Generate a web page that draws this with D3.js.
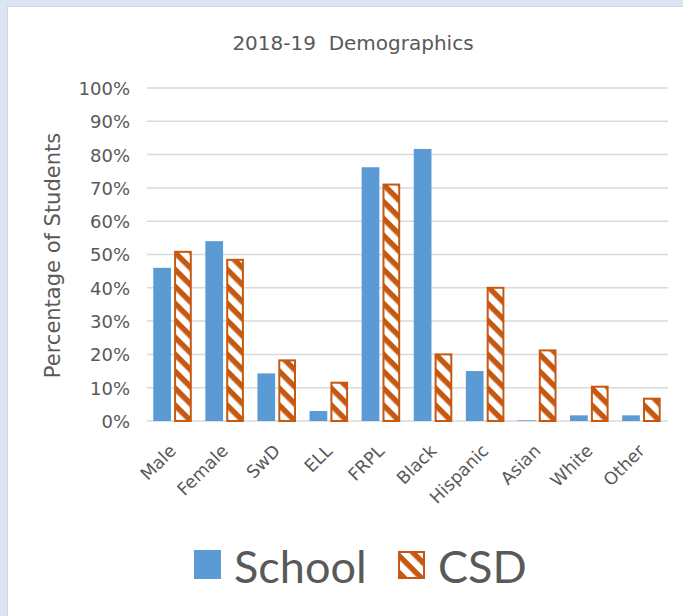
<!DOCTYPE html>
<html>
<head>
<meta charset="utf-8">
<script src="https://cdn.jsdelivr.net/npm/d3@7"></script>
<style>
  html, body { margin: 0; padding: 0; background: #dce6f2; }
  svg { display: block; }
  text { font-family: "DejaVu Sans", sans-serif; fill: #595959; }
</style>
</head>
<body>
<svg id="chart" width="683" height="616"></svg>
<script>
// Demographic groups and the share of students in each, school vs. district
const categories = ["Male", "Female", "SwD", "ELL", "FRPL", "Black", "Hispanic", "Asian", "White", "Other"];
const seriesNames = ["School", "CSD"];
const schoolValues = [0.46, 0.54, 0.143, 0.03, 0.762, 0.817, 0.15, 0.002, 0.017, 0.017];
const csdValues = [0.511, 0.487, 0.185, 0.118, 0.713, 0.203, 0.403, 0.215, 0.106, 0.07];
const yTicks = [0, 0.1, 0.2, 0.3, 0.4, 0.5, 0.6, 0.7, 0.8, 0.9, 1.0];

const blue = "#5b9bd5";
const orange = "#c65911";
const textFont = "'DejaVu Sans', sans-serif";

const svg = d3.select("#chart");
const W = 683, H = 616;

// page frame
svg.append("rect").attr("x", 0).attr("y", 0).attr("width", W).attr("height", H).attr("fill", "#dce6f2");
svg.append("rect").attr("x", 7.5).attr("y", 6.5).attr("width", W).attr("height", H)
  .attr("fill", "#ffffff").attr("stroke", "#cfd6de").attr("stroke-width", 1);

// diagonal stripe pattern for district bars
const defs = svg.append("defs");
const pat = defs.append("pattern")
  .attr("id", "stripes")
  .attr("patternUnits", "userSpaceOnUse")
  .attr("width", 12).attr("height", 12)
  .attr("patternTransform", "rotate(45)");
pat.append("rect").attr("width", 12).attr("height", 12).attr("fill", "#ffffff");
pat.append("rect").attr("x", 0).attr("y", 0).attr("width", 12).attr("height", 5.5).attr("fill", orange);

const plot = { left: 147, right: 668, top: 88, bottom: 421 };

const x0 = d3.scaleBand().domain(categories).range([plot.left, plot.right]).padding(0);
const bw = x0.bandwidth();
const x1 = d3.scaleBand().domain(seriesNames).range([bw * 0.12, bw * 0.86]).paddingInner(0.15);
const y = d3.scaleLinear().domain([0, 1]).range([plot.bottom, plot.top]);

// title
svg.append("text")
  .attr("x", 353).attr("y", 50)
  .attr("text-anchor", "middle")
  .attr("font-size", 20)
  .style("white-space", "pre")
  .text("2018-19  Demographics");

// gridlines
const grid = svg.append("g");
grid.selectAll("line").data(yTicks).join("line")
  .attr("x1", plot.left).attr("x2", plot.right)
  .attr("y1", d => y(d)).attr("y2", d => y(d))
  .attr("stroke", "#d9d9d9").attr("stroke-width", 1.5);

// y axis labels
const yAxis = d3.axisLeft(y).tickValues(yTicks).tickFormat(d3.format(".0%")).tickSize(0).tickPadding(17);
const ya = svg.append("g").attr("transform", `translate(${plot.left},0)`).call(yAxis);
ya.select(".domain").remove();
ya.selectAll("text").attr("font-size", 18).attr("fill", "#595959")
  .style("font-family", textFont).attr("dy", "0.36em");

// y axis title
svg.append("text")
  .attr("transform", `translate(60,${(plot.top + plot.bottom) / 2 + 1}) rotate(-90)`)
  .attr("text-anchor", "middle")
  .attr("font-size", 21)
  .text("Percentage of Students");

// bars
const groups = svg.append("g").selectAll("g").data(categories).join("g")
  .attr("transform", d => `translate(${x0(d)},0)`);

groups.append("rect")
  .attr("x", x1("School"))
  .attr("width", x1.bandwidth())
  .attr("y", (d, i) => y(schoolValues[i]))
  .attr("height", (d, i) => y(0) - y(schoolValues[i]))
  .attr("fill", blue);

groups.append("rect")
  .attr("x", x1("CSD") + 1)
  .attr("width", x1.bandwidth() - 2)
  .attr("y", (d, i) => y(csdValues[i]) + 1)
  .attr("height", (d, i) => Math.max(0, y(0) - y(csdValues[i]) - 1))
  .attr("fill", "url(#stripes)")
  .attr("stroke", orange).attr("stroke-width", 2);

// category labels
const xa = svg.append("g").attr("transform", `translate(0,${plot.bottom})`)
  .call(d3.axisBottom(x0).tickSize(0).tickPadding(0));
xa.select(".domain").remove();
xa.selectAll("text")
  .attr("font-size", 17.5).attr("fill", "#595959")
  .style("font-family", textFont)
  .attr("text-anchor", "end")
  .attr("dy", 0).attr("y", 0)
  .attr("transform", "translate(4,31) rotate(-45)");

// legend
const legend = svg.append("g");
legend.append("rect").attr("x", 194).attr("y", 550).attr("width", 27).attr("height", 29).attr("fill", blue);
legend.append("text").attr("x", 234).attr("y", 583).attr("font-size", 45)
  .style("font-family", "Lato, sans-serif").text("School");
legend.append("rect").attr("x", 399).attr("y", 552).attr("width", 25).attr("height", 26)
  .attr("fill", "url(#stripes)").attr("stroke", orange).attr("stroke-width", 2);
legend.append("text").attr("x", 438).attr("y", 583).attr("font-size", 45)
  .style("font-family", "Lato, sans-serif").text("CSD");
</script>
</body>
</html>
